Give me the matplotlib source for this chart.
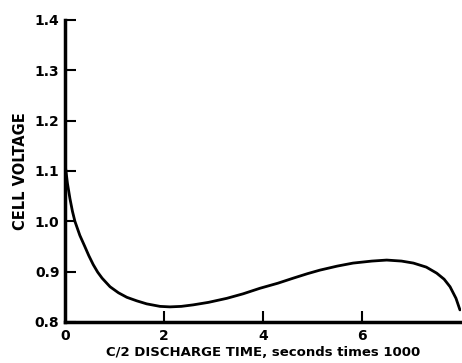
import matplotlib
matplotlib.use("Agg")
import matplotlib.pyplot as plt

## values
discharge_time = [0.0, 0.05, 0.1, 0.15, 0.2, 0.3, 0.4, 0.48, 0.57, 0.66, 0.75, 0.91, 1.08, 1.25, 1.45, 1.65, 1.92, 2.12,
                  2.35, 2.59, 2.9, 3.27, 3.6, 3.94, 4.3, 4.61, 4.9, 5.15, 5.5, 5.82, 6.2, 6.5, 6.8, 7.04, 7.3, 7.51,
                  7.66, 7.78, 7.9, 7.98]
cell_voltage = [1.115, 1.075, 1.045, 1.02, 1.0, 0.972, 0.95, 0.932, 0.914, 0.899, 0.887, 0.87, 0.858, 0.849, 0.842,
                0.836, 0.831, 0.83, 0.831, 0.834, 0.839, 0.847, 0.856, 0.867, 0.877, 0.887, 0.896, 0.903, 0.911,
                0.917, 0.921, 0.923, 0.921, 0.917, 0.909, 0.897, 0.885, 0.87, 0.847, 0.824]
x_ticks = [2, 4, 6]
y_ticks = [0.8, 0.9, 1.0, 1.1, 1.2, 1.3, 1.4]

plt.rcParams['font.family'] = ['DejaVu Sans']
plt.rcParams['font.weight'] = 'bold'

fig = plt.figure(figsize=(4.62, 3.63), dpi=100)
ax = fig.add_axes([0.1407, 0.113, 0.857, 0.832])
ax.plot(discharge_time, cell_voltage, color='black', lw=2.0, solid_capstyle='round')

ax.set_xlim(0, 8.0)
ax.set_ylim(0.8, 1.4)
ax.set_xticks([0] + x_ticks)
ax.set_xticklabels(['0'] + [str(t) for t in x_ticks])
ax.set_yticks(y_ticks)
ax.set_yticklabels(['%.1f' % v for v in y_ticks])
ax.tick_params(direction='in', length=8, width=1.5, labelsize=10)
ax.tick_params(axis='x', pad=5)
ax.tick_params(axis='y', pad=4)
ax.xaxis.get_major_ticks()[0].tick1line.set_visible(False)

for side in ['top', 'right']:
    ax.spines[side].set_visible(False)
for side in ['left', 'bottom']:
    ax.spines[side].set_linewidth(2.5)

ax.set_xlabel('C/2 DISCHARGE TIME, seconds times 1000', fontsize=9.5, fontweight='bold', labelpad=2)
ax.set_ylabel('CELL VOLTAGE', fontsize=10.5, fontweight='bold', labelpad=5)

fig.savefig('out.png', dpi=100)
